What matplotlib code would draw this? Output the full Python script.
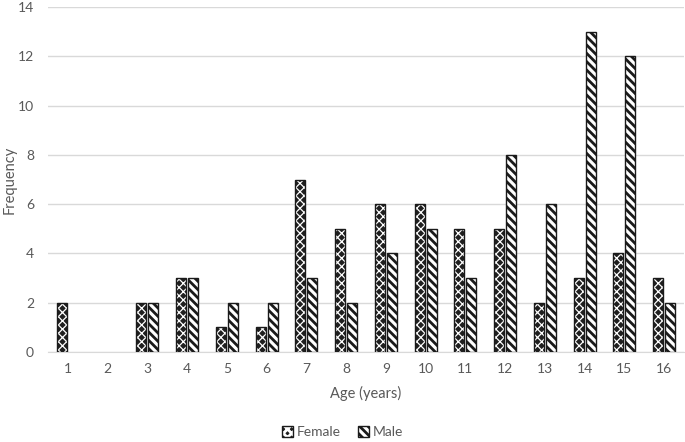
import matplotlib
matplotlib.use("Agg")
import matplotlib.pyplot as plt
from matplotlib.legend_handler import HandlerTuple
import numpy as np

ages = [str(i) for i in range(1, 17)]
female = [2, 0, 2, 3, 1, 1, 7, 5, 6, 6, 5, 5, 2, 3, 4, 3]
male = [0, 0, 2, 3, 2, 2, 3, 2, 4, 5, 3, 8, 6, 13, 12, 2]

plt.rcParams['font.family'] = ['Lato', 'DejaVu Sans']

txt = '#595959'
fig = plt.figure(figsize=(6.85, 4.42), dpi=100)
ax = fig.add_axes([0.070, 0.2036, 0.9285, 0.7804])

x = np.arange(len(ages))
w = 0.25
gap = 0.05

plt.rcParams['hatch.linewidth'] = 0.9
fb = ax.bar(x - (w + gap) / 2, female, width=w, facecolor='#1f1f1f', edgecolor='white',
            hatch='xxxx', linewidth=0, zorder=3)
fo = ax.bar(x - (w + gap) / 2, female, width=w, facecolor='none', edgecolor='#1a1a1a',
            linewidth=1.0, zorder=4)
plt.rcParams['hatch.linewidth'] = 2.0
mb = ax.bar(x + (w + gap) / 2, male, width=w, facecolor='white', edgecolor='#1a1a1a',
            hatch='\\\\\\\\', linewidth=1.0, zorder=3)

for cont in (fb, fo, mb):
    for p in cont.patches:
        if p.get_height() == 0:
            p.set_visible(False)

ax.set_xlim(-0.5, len(ages) - 0.5)
ax.set_ylim(0, 14)
ax.set_yticks(range(0, 15, 2))
ax.set_xticks(x)
ax.set_xticklabels(ages)
ax.grid(axis='y', color='#d9d9d9', linewidth=1.0, zorder=0)
for s in ['top', 'right', 'left']:
    ax.spines[s].set_visible(False)
ax.spines['bottom'].set_color('#d9d9d9')
ax.tick_params(axis='both', length=0, colors=txt, labelsize=10)
ax.tick_params(axis='x', pad=8)
ax.tick_params(axis='y', pad=10)
ax.set_xlabel('Age (years)', color=txt, fontsize=10.5, labelpad=8)
ax.set_ylabel('Frequency', color=txt, fontsize=10.5)
ax.yaxis.set_label_coords(-0.049, 0.5)

leg = fig.legend([(fb.patches[0], fo.patches[0]), mb.patches[2]], ['Female', 'Male'],
                 handler_map={tuple: HandlerTuple(ndivide=1)},
                 loc='lower center', bbox_to_anchor=(0.5, -0.02), ncol=2, frameon=False,
                 fontsize=10, handlelength=0.8, handleheight=0.8, handletextpad=0.3,
                 columnspacing=1.2)
for t in leg.get_texts():
    t.set_color(txt)

fig.savefig('out.png', dpi=100)
